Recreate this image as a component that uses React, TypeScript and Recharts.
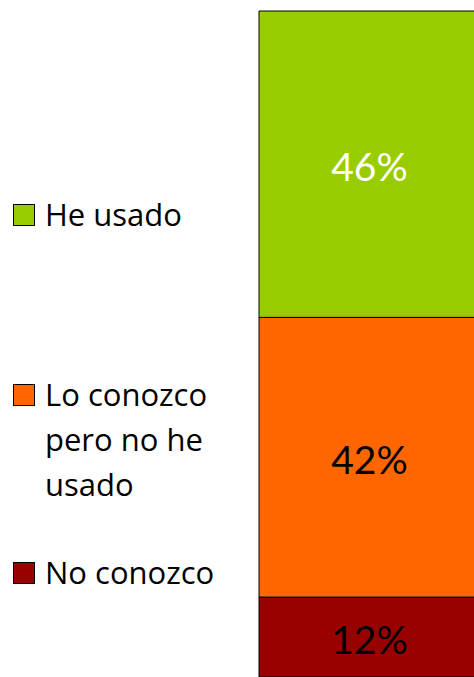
import React from 'react'
import { BarChart, Bar, XAxis, YAxis, Legend, LabelList } from 'recharts'

const categories = ['Respuesta']
const noConozco = [12]
const loConozco = [42]
const heUsado = [46]

const legendNames = ['He usado', 'Lo conozco pero no he usado', 'No conozco']
const legendColors = ['#99CC00', '#FF6600', '#990000']

const data = categories.map((c, i) => ({
  name: c,
  no: noConozco[i],
  lo: loConozco[i],
  he: heUsado[i],
}))

const pct = (v: any) => `${v}%`

// gaps above each legend entry, as laid out in the original
const legendGaps = [192, 135, 43]

const LegendBox = () => (
  <div style={{ fontFamily: 'Open Sans', fontSize: 31, lineHeight: '45px', color: '#000' }}>
    {legendNames.map((n, i) => (
      <div key={n} style={{ display: 'flex', alignItems: 'flex-start', marginTop: legendGaps[i] }}>
        <div style={{
          width: 20, height: 20, background: legendColors[i], border: '1px solid #000',
          marginLeft: 13, marginTop: 12, flex: 'none'
        }} />
        <div style={{ marginLeft: 10, width: 185 }}>{n}</div>
      </div>
    ))}
  </div>
)

export default function App() {
  return (
    <div style={{ position: 'absolute', left: 0, top: 0, width: 474, height: 677, overflow: 'hidden', background: '#fff' }}>
      <BarChart width={480} height={677} data={data} barCategoryGap="0%"
        margin={{ top: 11, right: 0, bottom: 0, left: 259 }}>
        <XAxis dataKey="name" hide />
        <YAxis domain={[0, 100]} hide />
        <Legend layout="horizontal" verticalAlign="middle" align="center"
          wrapperStyle={{ left: 0, top: 0, width: 250 }} content={() => <LegendBox />} />
        <Bar dataKey="no" stackId="a" fill="#990000" stroke="#000" strokeWidth={1} isAnimationActive={false}>
          <LabelList dataKey="no" position="center" formatter={pct} fill="#000" fontFamily="Lato" fontSize={39} dy={3} />
        </Bar>
        <Bar dataKey="lo" stackId="a" fill="#FF6600" stroke="#000" strokeWidth={1} isAnimationActive={false}>
          <LabelList dataKey="lo" position="center" formatter={pct} fill="#000" fontFamily="Lato" fontSize={39} dy={3} />
        </Bar>
        <Bar dataKey="he" stackId="a" fill="#99CC00" stroke="#000" strokeWidth={1} isAnimationActive={false}>
          <LabelList dataKey="he" position="center" formatter={pct} fill="#fff" fontFamily="Lato" fontSize={39} dy={3} />
        </Bar>
      </BarChart>
    </div>
  )
}
